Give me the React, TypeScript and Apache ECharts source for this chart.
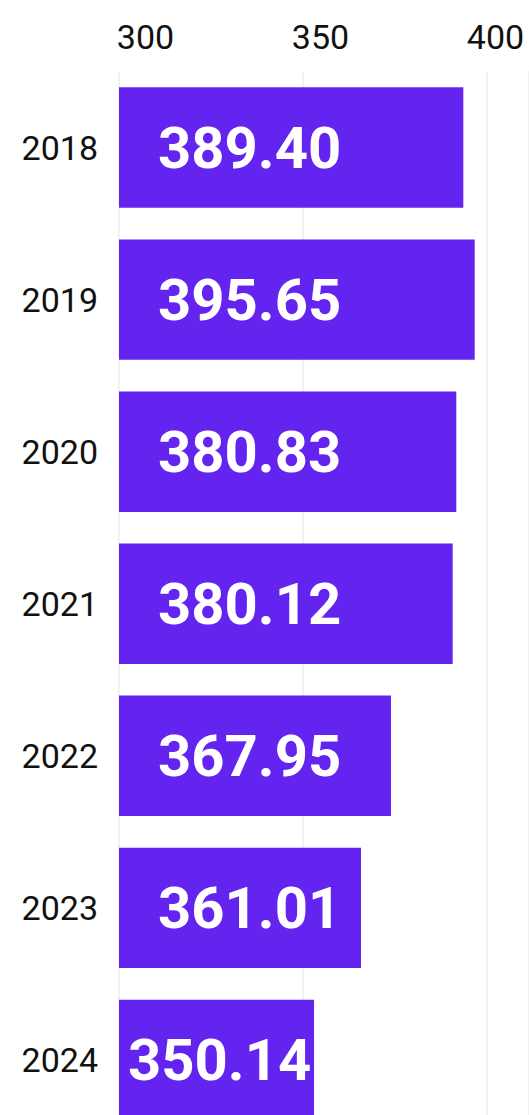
import React, { useEffect, useRef } from "react";
import * as echarts from "echarts";

// Categories (years), top to bottom
const years = ["2018", "2019", "2020", "2021", "2022", "2023", "2024"];
// Bar lengths (300 at the left edge, 400 at the right gridline)
const barLengths = [393.69, 396.79, 391.78, 390.8, 374.01, 365.85, 353.06];
// Value labels printed inside the bars
const valueLabels = ["389.40", "395.65", "380.83", "380.12", "367.95", "361.01", "350.14"];
// Tick labels of the top axis
const tickLabels = ["300", "350", "400"];

const FONT = "Roboto, 'Noto Sans', sans-serif";

export default function App() {
  const ref = useRef<HTMLDivElement>(null);

  useEffect(() => {
    if (!ref.current) return;
    const chart = echarts.init(ref.current, undefined, { renderer: "svg" });

    const shortIdx = barLengths.length - 1;
    const data = barLengths.map((v, i) => ({
      value: v,
      label: {
        position: [i === shortIdx ? 9 : 39, "50%"],
      },
    }));

    chart.setOption({
      animation: false,
      backgroundColor: "#ffffff",
      grid: { left: 119, right: 0, top: 71.5, bottom: 0, containLabel: false },
      xAxis: [
        {
          type: "value",
          position: "top",
          min: 300,
          max: 300 + 410 / 3.675,
          interval: 50,
          axisLine: { show: false },
          axisTick: { show: false },
          axisLabel: { show: false },
          splitLine: { show: true, lineStyle: { color: "#ececec", width: 1.5 } },
        },
        {
          type: "value",
          position: "top",
          min: 300 - 26.5 / 3.5,
          max: 300 - 26.5 / 3.5 + 410 / 3.5,
          splitNumber: 2,
          axisLine: { show: false },
          axisTick: { show: false },
          splitLine: { show: false },
          axisLabel: {
            show: true,
            showMinLabel: false,
            showMaxLabel: false,
            margin: 18,
            fontSize: 34,
            fontFamily: FONT,
            color: "#111111",
            formatter: (v: number) => {
              const s = String(Math.round(v));
              return Math.abs(v % 50) < 1e-6 && tickLabels.includes(s) ? s : "";
            },
          },
        },
      ],
      yAxis: {
        type: "category",
        data: years,
        inverse: true,
        axisLine: { show: false },
        axisTick: { show: false },
        splitLine: { show: false },
        axisLabel: {
          margin: 21,
          fontSize: 34,
          fontFamily: FONT,
          color: "#111111",
        },
      },
      series: [
        {
          type: "bar",
          xAxisIndex: 0,
          barWidth: 120.4,
          data,
          itemStyle: { color: "#6424F0" },
          label: {
            show: true,
            align: "left",
            verticalAlign: "middle",
            fontSize: 58,
            fontWeight: "bold",
            fontFamily: FONT,
            color: "#ffffff",
            formatter: (p: any) => valueLabels[p.dataIndex],
          },
        },
      ],
    });

    return () => chart.dispose();
  }, []);

  return (
    <div
      style={{
        position: "fixed",
        left: 0,
        top: 0,
        width: 529,
        height: 1115,
        overflow: "hidden",
        background: "#fff",
      }}
    >
      <div ref={ref} style={{ width: 529, height: 1135.5 }} />
    </div>
  );
}
